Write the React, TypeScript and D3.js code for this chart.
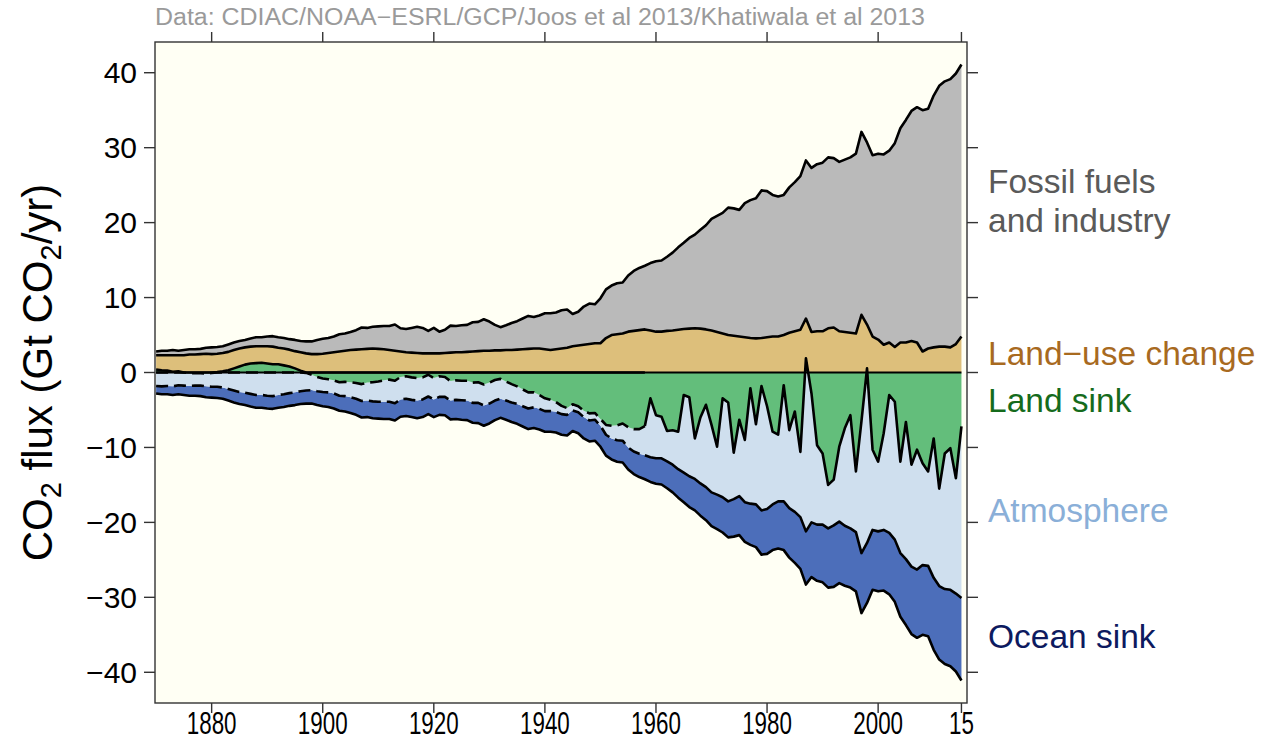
import React from 'react';
import * as d3 from 'd3';

// Global carbon budget, Gt CO2 per year, 1870-2015
const years = d3.range(1870, 2016);

const fossil = [
  0.5, 0.6, 0.6, 0.7, 0.6, 0.7, 0.7, 0.7, 0.7, 0.8,
  0.9, 0.9, 0.9, 1.0, 1.0, 1.0, 1.0, 1.1, 1.2, 1.2,
  1.3, 1.4, 1.4, 1.4, 1.4, 1.5, 1.5, 1.6, 1.7, 1.9,
  2.0, 2.0, 2.1, 2.3, 2.3, 2.4, 2.6, 2.9, 2.8, 2.9,
  3.0, 3.1, 3.2, 3.5, 3.1, 3.1, 3.3, 3.5, 3.4, 3.0,
  3.4, 2.9, 3.1, 3.6, 3.5, 3.6, 3.6, 3.9, 3.9, 4.2,
  3.9, 3.4, 3.1, 3.3, 3.6, 3.8, 4.1, 4.4, 4.2, 4.4,
  4.8, 4.9, 4.9, 5.1, 5.1, 4.3, 4.5, 5.1, 5.4, 5.2,
  6.0, 6.5, 6.6, 6.8, 6.8, 7.5, 8.0, 8.3, 8.5, 9.0,
  9.4, 9.5, 9.9, 10.4, 11.0, 11.5, 12.1, 12.5, 13.2, 13.9,
  14.9, 15.5, 16.1, 17.0, 17.0, 16.9, 17.9, 18.4, 18.7, 19.7,
  19.5, 18.9, 18.7, 18.7, 19.4, 19.9, 20.5, 21.1, 21.9, 22.3,
  22.5, 22.8, 22.6, 22.6, 23.0, 23.4, 24.0, 24.4, 24.3, 24.2,
  24.8, 25.4, 25.6, 27.2, 28.6, 29.7, 30.7, 31.4, 32.2, 32.0,
  33.6, 34.8, 35.4, 35.8, 36.1, 36.3,
];

const landUse = [
  2.3, 2.3, 2.3, 2.3, 2.3, 2.3, 2.4, 2.4, 2.45, 2.5,
  2.45, 2.5, 2.6, 2.75, 3.0, 3.2, 3.35, 3.45, 3.5, 3.5,
  3.5, 3.45, 3.3, 3.2, 3.05, 2.85, 2.7, 2.55, 2.45, 2.45,
  2.5, 2.6, 2.7, 2.8, 2.9, 3.0, 3.05, 3.1, 3.15, 3.2,
  3.15, 3.1, 3.0, 2.9, 2.8, 2.7, 2.65, 2.6, 2.55, 2.55,
  2.55, 2.55, 2.6, 2.65, 2.7, 2.7, 2.75, 2.8, 2.85, 2.9,
  2.9, 2.95, 2.95, 3.0, 3.0, 3.05, 3.1, 3.15, 3.2, 3.2,
  3.1, 3.0, 3.1, 3.2, 3.3, 3.5, 3.6, 3.7, 3.8, 3.9,
  3.9, 4.6, 5.0, 5.1, 5.2, 5.45, 5.55, 5.65, 5.75, 5.6,
  5.45, 5.45, 5.55, 5.6, 5.7, 5.8, 5.85, 5.9, 5.85, 5.75,
  5.6, 5.4, 5.2, 5.0, 4.9, 4.8, 4.7, 4.6, 4.55, 4.6,
  4.7, 4.8, 4.8, 5.0, 5.3, 5.5, 5.7, 7.2, 5.4, 5.5,
  5.5, 5.9, 6.0, 5.5, 5.4, 5.3, 5.2, 7.7, 6.4, 4.8,
  4.4, 3.7, 4.0, 3.4, 4.0, 4.0, 4.2, 4.0, 2.8, 3.2,
  3.35, 3.45, 3.45, 3.35, 3.8, 4.8,
];

// sinks (positive = uptake)
const landSink = [
  -0.4, -0.3, -0.25, -0.1, -0.15, 0.0, 0.1, 0.1, 0.1, 0.15,
  0.05, -0.05, -0.15, -0.3, -0.55, -0.8, -1.05, -1.2, -1.25, -1.3,
  -1.2, -1.1, -1.1, -0.95, -0.8, -0.55, -0.25, 0.05, 0.3, 0.6,
  0.8, 0.9, 1.05, 1.3, 1.25, 1.3, 1.4, 1.55, 1.35, 1.3,
  1.2, 1.05, 0.95, 1.1, 0.6, 0.5, 0.65, 0.75, 0.65, 0.3,
  0.75, 0.5, 0.6, 1.15, 1.05, 1.1, 1.1, 1.35, 1.3, 1.6,
  1.35, 1.0, 0.85, 1.2, 1.55, 1.85, 2.25, 2.65, 2.65, 3.0,
  3.45, 3.65, 3.95, 4.45, 4.75, 4.25, 4.5, 5.1, 5.45, 5.4,
  6.2, 7.0, 7.1, 7.05, 6.8, 7.3, 7.55, 7.55, 7.15, 3.45,
  5.7, 5.9, 7.8, 7.7, 7.9, 3.0, 3.3, 8.8, 6.0, 4.3,
  7.0, 9.9, 3.45, 4.0, 10.7, 6.3, 9.0, 2.1, 6.9, 1.8,
  4.5, 7.9, 8.3, 1.7, 7.7, 5.2, 10.6, -1.9, 2.8, 9.7,
  10.8, 15.0, 14.3, 9.9, 7.45, 5.7, 13.2, 6.5, -0.55, 10.3,
  11.9, 8.1, 3.0, 3.9, 11.9, 6.6, 12.3, 10.3, 12.1, 13.2,
  8.8, 15.5, 10.8, 10.1, 14.1, 7.2,
];

const atmosphere = [
  2.2, 2.15, 2.05, 1.95, 1.85, 1.75, 1.7, 1.65, 1.65, 1.7,
  1.85, 1.95, 2.15, 2.5, 2.95, 3.4, 3.75, 4.05, 4.25, 4.3,
  4.3, 4.25, 4.1, 3.85, 3.55, 3.2, 2.75, 2.35, 2.05, 1.9,
  1.8, 1.75, 1.75, 1.8, 1.9, 2.0, 2.1, 2.25, 2.4, 2.55,
  2.7, 2.85, 2.95, 3.0, 3.0, 3.0, 3.0, 3.0, 2.95, 2.9,
  2.85, 2.75, 2.65, 2.6, 2.6, 2.6, 2.65, 2.7, 2.75, 2.8,
  2.8, 2.75, 2.65, 2.55, 2.45, 2.35, 2.25, 2.15, 2.0, 1.85,
  1.7, 1.5, 1.3, 1.1, 0.9, 0.8, 0.8, 0.85, 0.95, 0.9,
  0.9, 1.3, 1.7, 2.0, 2.3, 2.7, 3.0, 3.3, 3.9, 7.85,
  5.75, 5.55, 4.05, 4.6, 5.0, 10.35, 10.55, 5.4, 8.8, 11.0,
  9.0, 6.4, 13.2, 13.2, 6.2, 10.2, 8.3, 15.4, 10.7, 16.6,
  13.7, 9.7, 8.9, 15.5, 10.4, 13.4, 8.7, 23.1, 17.2, 10.6,
  9.5, 5.8, 6.1, 10.0, 13.0, 15.1, 8.1, 17.6, 23.3, 10.7,
  9.3, 12.9, 18.4, 18.4, 12.2, 18.3, 13.6, 16.0, 13.6, 12.6,
  18.6, 13.0, 18.1, 18.9, 15.4, 22.9,
];

const oceanSink = [
  1.0, 1.05, 1.1, 1.15, 1.2, 1.25, 1.3, 1.35, 1.4, 1.45,
  1.45, 1.5, 1.5, 1.55, 1.6, 1.6, 1.65, 1.7, 1.7, 1.7,
  1.7, 1.7, 1.7, 1.7, 1.7, 1.7, 1.7, 1.75, 1.8, 1.85,
  1.9, 1.95, 2.0, 2.0, 2.05, 2.1, 2.15, 2.2, 2.2, 2.25,
  2.25, 2.3, 2.3, 2.3, 2.3, 2.3, 2.3, 2.35, 2.35, 2.35,
  2.35, 2.4, 2.45, 2.5, 2.55, 2.6, 2.6, 2.65, 2.7, 2.7,
  2.65, 2.6, 2.55, 2.55, 2.6, 2.65, 2.7, 2.75, 2.75, 2.75,
  2.75, 2.75, 2.75, 2.75, 2.75, 2.75, 2.8, 2.85, 2.8, 2.8,
  2.8, 2.8, 2.8, 2.85, 2.9, 2.95, 3.0, 3.1, 3.2, 3.3,
  3.4, 3.5, 3.6, 3.7, 3.8, 3.95, 4.1, 4.2, 4.3, 4.4,
  4.5, 4.6, 4.7, 4.8, 5.0, 5.2, 5.3, 5.5, 5.7, 5.9,
  6.0, 6.1, 6.3, 6.5, 6.6, 6.8, 6.9, 7.1, 7.3, 7.5,
  7.7, 7.9, 8.2, 8.2, 8.0, 7.9, 7.9, 8.0, 8.0, 8.0,
  8.0, 8.1, 8.2, 8.3, 8.5, 8.8, 9.0, 9.1, 9.3, 9.4,
  9.6, 9.8, 10.0, 10.2, 10.4, 11.0,
];

const xTicks = [1880, 1900, 1920, 1940, 1960, 1980, 2000, 2015];
const xTickLabels = ['1880', '1900', '1920', '1940', '1960', '1980', '2000', '15'];
const yTicks = [-40, -30, -20, -10, 0, 10, 20, 30, 40];
const instrumentalStart = 1958;

const labels = [
  { lines: ['Fossil fuels', 'and industry'], y: 193, color: '#5a5a5a' },
  { lines: ['Land\u2212use change'], y: 365, color: '#a86a1f' },
  { lines: ['Land sink'], y: 412, color: '#156b1c' },
  { lines: ['Atmosphere'], y: 522, color: '#8aafd8' },
  { lines: ['Ocean sink'], y: 648, color: '#0d1a5f' },
];

const minus = (v: number) => (v < 0 ? '\u2212' + Math.abs(v) : String(v));

export default function App() {
  const left = 155, right = 967, top = 42, bottom = 703;
  const x = d3.scaleLinear().domain([1869.8, 2016]).range([left, right]);
  const y = d3.scaleLinear().domain([-44.1, 44.1]).range([bottom, top]);

  const rows = years.map((year, i) => ({
    year,
    landUse: landUse[i],
    fossil: fossil[i],
    land: -landSink[i],
    atm: -atmosphere[i],
    ocean: -oceanSink[i],
  }));

  const sources = d3.stack<any>().keys(['landUse', 'fossil'])(rows);
  const sinks = d3.stack<any>().keys(['land', 'atm', 'ocean'])(rows);

  const area = d3.area<any>()
    .x((d) => x(d.data.year))
    .y0((d) => y(d[0]))
    .y1((d) => y(d[1]));

  const line = d3.line<[number, number]>()
    .x((d) => x(d[0]))
    .y((d) => y(d[1]));

  const pts = (layer: any, k: 0 | 1) =>
    rows.map((r, i) => [r.year, layer[i][k]] as [number, number]);
  const early = (p: [number, number][]) => p.filter((d) => d[0] <= instrumentalStart);
  const late = (p: [number, number][]) => p.filter((d) => d[0] >= instrumentalStart);

  const topLine = pts(sources[1], 1);
  const lucLine = pts(sources[0], 1);
  const landLine = pts(sinks[0], 1);
  const oceanTop = pts(sinks[2], 0);
  const bottomLine = pts(sinks[2], 1);

  const stroke = { fill: 'none', stroke: '#000', strokeWidth: 2.6, strokeLinejoin: 'round' as const };
  const dash = '12,6';
  const axisCol = '#333';

  return (
    <svg
      width={1262}
      height={753}
      style={{ position: 'absolute', left: 0, top: 0, background: '#fff' }}
      fontFamily="'Liberation Sans', Arial, Helvetica, sans-serif"
    >
      <rect x={left} y={top} width={right - left} height={bottom - top} fill="#fffff4" />

      <path d={area(sources[1] as any) || ''} fill="#bababa" />
      <path d={area(sources[0] as any) || ''} fill="#ddbf7b" />
      <path d={area(sinks[2] as any) || ''} fill="#4c6eba" />
      <path d={area(sinks[1] as any) || ''} fill="#cfdfee" />
      <path d={area(sinks[0] as any) || ''} fill="#63be7b" />

      <path d={line(topLine) || ''} {...stroke} />
      <path d={line(lucLine) || ''} {...stroke} />
      <path d={line(bottomLine) || ''} {...stroke} />
      <path d={line(early(oceanTop)) || ''} {...stroke} strokeDasharray={dash} />
      <path d={line(late(oceanTop)) || ''} {...stroke} />
      <path d={line(early(landLine).map((d) => [d[0], Math.min(d[1], 0)] as [number, number])) || ''} {...stroke} strokeDasharray={dash} />
      <path d={line(early(landLine).map((d) => [d[0], Math.max(d[1], 0)] as [number, number])) || ''} {...stroke} />
      <path d={line(late(landLine)) || ''} {...stroke} />
      <line x1={x(1870)} x2={x(2015)} y1={y(0)} y2={y(0)} stroke="#000" strokeWidth={2.2} />

      <rect x={left} y={top} width={right - left} height={bottom - top} fill="none" stroke={axisCol} strokeWidth={1.4} />

      {xTicks.map((t, i) => (
        <g key={'x' + t}>
          <line x1={x(t)} x2={x(t)} y1={bottom} y2={bottom + 10} stroke={axisCol} strokeWidth={1.4} />
          <line x1={x(t)} x2={x(t)} y1={top} y2={top - 10} stroke={axisCol} strokeWidth={1.4} />
          <text transform={`translate(${x(t)}, 734) scale(0.7, 1)`} fontSize={32} textAnchor="middle">
            {xTickLabels[i]}
          </text>
        </g>
      ))}

      {yTicks.map((t) => (
        <g key={'y' + t}>
          <line x1={left - 11} x2={left} y1={y(t)} y2={y(t)} stroke={axisCol} strokeWidth={1.4} />
          <line x1={right} x2={right + 11} y1={y(t)} y2={y(t)} stroke={axisCol} strokeWidth={1.4} />
          <text x={137} y={y(t) + 10.5} fontSize={30} textAnchor="end">
            {minus(t)}
          </text>
        </g>
      ))}

      <text x={155} y={25} fontSize={23} fill="#9a9a9a" textLength={770} lengthAdjust="spacingAndGlyphs">
        Data: CDIAC/NOAA{'\u2212'}ESRL/GCP/Joos et al 2013/Khatiwala et al 2013
      </text>

      <text transform={`translate(52, ${(top + bottom) / 2}) rotate(-90)`} fontSize={42} textAnchor="middle">
        CO<tspan fontSize={29} dy={9}>2</tspan>
        <tspan dy={-9}> flux (Gt CO</tspan>
        <tspan fontSize={29} dy={9}>2</tspan>
        <tspan dy={-9}>/yr)</tspan>
      </text>

      {labels.map((l) => (
        <text key={l.lines[0]} x={988} y={l.y} fontSize={33.5} fill={l.color}>
          {l.lines.map((s, j) => (
            <tspan key={s} x={988} dy={j === 0 ? 0 : 39}>
              {s}
            </tspan>
          ))}
        </text>
      ))}
    </svg>
  );
}
